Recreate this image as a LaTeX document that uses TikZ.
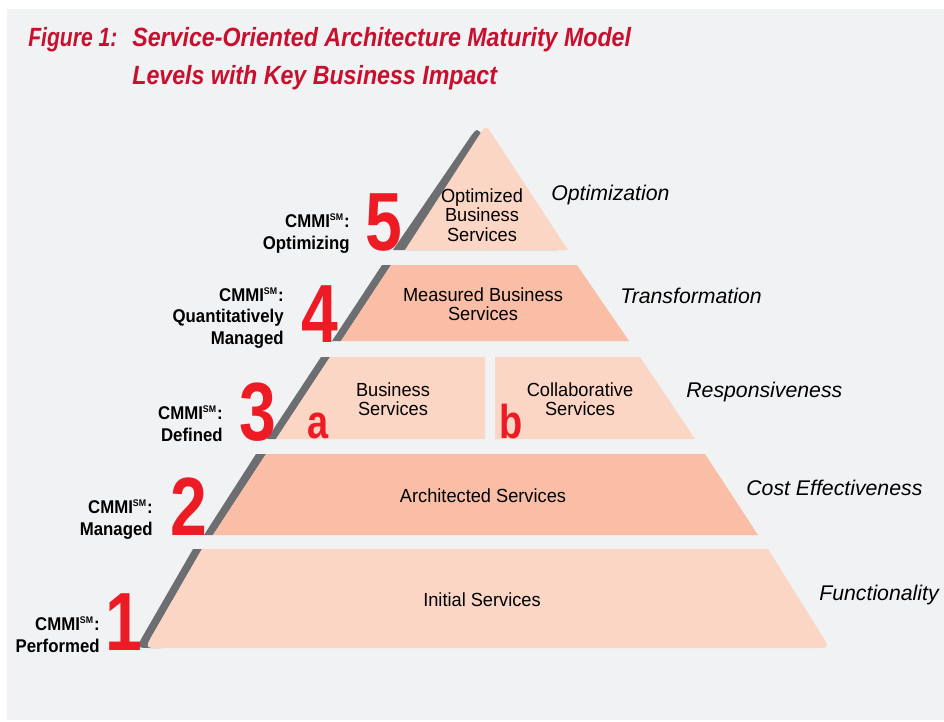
\documentclass[tikz,border=0pt]{standalone}
\usepackage{fontspec}
\setmainfont{Liberation Sans}
\newfontfamily\bodyfont{Liberation Sans}[FakeStretch=0.96]
\newfontfamily\cmmifont{Liberation Sans}[FakeStretch=0.91]
\newfontfamily\numfont{Liberation Sans}[FakeStretch=0.8]
\newfontfamily\titlefont{Liberation Sans}[FakeStretch=0.88]
\newfontfamily\figfont{Liberation Sans}[FakeStretch=0.8]
\usetikzlibrary{calc,positioning}

\definecolor{bgpanel}{RGB}{241,242,244}
\definecolor{peachlight}{RGB}{251,214,196}
\definecolor{peachdark}{RGB}{249,190,165}
\definecolor{stripegray}{RGB}{109,110,113}
\definecolor{numred}{RGB}{237,28,36}
\definecolor{titlered}{RGB}{200,16,46}

\newcommand{\smark}{\textsuperscript{\fontsize{5.5}{6}\selectfont SM}}

\begin{document}
\begin{tikzpicture}[x=0.02cm,y=-0.02cm,
  txt/.style={align=center,inner sep=0,font=\bodyfont\fontsize{10.8}{11.1}\selectfont},
  num/.style={anchor=base east,inner sep=0,text=numred,font=\numfont\bfseries\fontsize{47}{47}\selectfont},
  sub/.style={anchor=base west,inner sep=0,text=numred,font=\numfont\bfseries\fontsize{27}{27}\selectfont},
  cmmi/.style={anchor=base east,align=right,inner sep=0,font=\cmmifont\bfseries\fontsize{10.5}{12}\selectfont},
  impact/.style={anchor=base west,inner sep=0,font=\itshape\fontsize{12.1}{13}\selectfont},
  ttl/.style={anchor=base west,inner sep=0,text=titlered,font=\titlefont\bfseries\itshape\fontsize{15}{17}\selectfont}]

  \useasboundingbox (0,0) rectangle (944,721);
  \fill[white] (0,0) rectangle (944,721);
  \fill[bgpanel] (7,9) rectangle (944,720);

  % title
  \node[ttl,font=\figfont\bfseries\itshape\fontsize{15}{17}\selectfont] (fig) at (28,46) {Figure 1:};
  \node[ttl] (ttl1) at (132,46) {Service-Oriented Architecture Maturity Model};
  \node[ttl] (ttl2) at (132,84) {Levels with Key Business Impact};

  % level 1
  \fill[stripegray] (193,549) -- (202,549) -- (153,634) .. controls (145,648) .. (161,648)
    -- (152,648) .. controls (136,648) .. (144,634) -- cycle;
  \fill[peachlight] (202,549) -- (768,549) -- (821,634) .. controls (830,648) .. (814,648)
    -- (161,648) .. controls (145,648) .. (153,634) -- cycle;
  % level 2
  \fill[stripegray] (256,454) -- (266,454) -- (213,535) -- (204,535) -- cycle;
  \fill[peachdark] (266,454) -- (705,454) -- (758,535) -- (213,535) -- cycle;
  % level 3
  \fill[stripegray] (321,357) -- (330,357) -- (276,439) -- (267,439) -- cycle;
  \fill[peachlight] (330,357) -- (485,357) -- (485,439) -- (276,439) -- cycle;
  \fill[peachlight] (495,357) -- (640,357) -- (695,439) -- (495,439) -- cycle;
  % level 4
  \fill[stripegray] (382,265) -- (391,265) -- (341,341) -- (332,341) -- cycle;
  \fill[peachdark] (391,265) -- (577,265) -- (629,341) -- (341,341) -- cycle;
  % level 5
  \fill[stripegray] (393,250) -- (471,136) .. controls (477,128) .. (483,136) -- (558,250) -- cycle;
  \fill[peachlight] (405,250) -- (480,134) .. controls (486,125) .. (492,134) -- (568,250) -- cycle;

  \node[txt] (t5) at (482,215) {Optimized\\Business\\Services};
  \node[txt] (t4) at (483,304) {Measured Business\\Services};
  \node[txt] (t3a) at (393,399) {Business\\Services};
  \node[txt] (t3b) at (580,399) {Collaborative\\Services};
  \node[txt] (t2) at (483,496) {Architected Services};
  \node[txt] (t1) at (482,600) {Initial Services};

  \node[num] (n5) at (403,250) {5};
  \node[num] (n4) at (339,342) {4};
  \node[num] (n3) at (277,440) {3};
  \node[num] (n2) at (208,535) {2};
  \node[num] (n1) at (143,650) {1};

  \node[sub] (sa) at (307,438) {a};
  \node[sub] (sb) at (499,438) {b};

  \node[cmmi] (c5) at (350,249) {CMMI\smark:\\Optimizing};
  \node[cmmi] (c4) at (284,344) {CMMI\smark:\\Quantitatively\\Managed};
  \node[cmmi] (c3) at (223,441) {CMMI\smark:\\Defined};
  \node[cmmi] (c2) at (153,535) {CMMI\smark:\\Managed};
  \node[cmmi] (c1) at (100,652) {CMMI\smark:\\Performed};

  \node[impact] (i5) at (551,200) {Optimization};
  \node[impact] (i4) at (620,303) {Transformation};
  \node[impact] (i3) at (686,397) {Responsiveness};
  \node[impact] (i2) at (746,495) {Cost Effectiveness};
  \node[impact] (i1) at (819,600) {Functionality};

\end{tikzpicture}
\end{document}
